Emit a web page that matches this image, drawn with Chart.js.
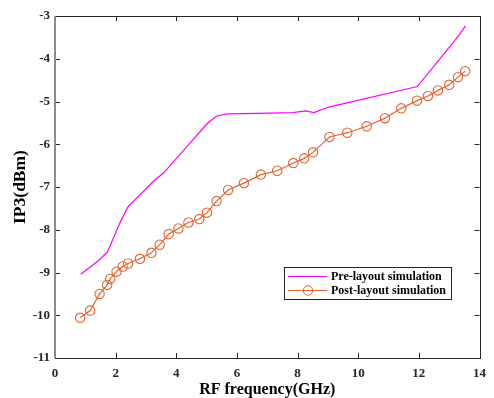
<!DOCTYPE html>
<html>
<head>
<meta charset="utf-8">
<script src="https://cdn.jsdelivr.net/npm/chart.js@4/dist/chart.umd.min.js"></script>
<style>
  html, body { margin: 0; padding: 0; background: #fff; }
  #wrap { width: 494px; height: 398px; }
</style>
</head>
<body>
<div id="wrap"><canvas id="ip3Chart" width="494" height="398"></canvas></div>
<script>
// Pre-layout simulation (magenta line, no markers)
const preFreq = [0.85, 1.44, 1.73, 2.16, 2.41, 2.81, 3.30, 3.57, 4.38, 5.03, 5.33, 5.68, 6.65, 7.84, 8.27, 8.54, 9.03, 11.95, 13.30, 13.54];
const preIP3  = [-9.04, -8.72, -8.52, -7.81, -7.46, -7.18, -6.83, -6.68, -6.03, -5.51, -5.34, -5.29, -5.28, -5.26, -5.22, -5.26, -5.13, -4.65, -3.47, -3.23];

// Post-layout simulation (orange line with circles)
const postFreq = [0.83, 1.16, 1.47, 1.72, 1.82, 2.03, 2.23, 2.41, 2.80, 3.18, 3.45, 3.75, 4.07, 4.40, 4.76, 5.01, 5.33, 5.71, 6.23,
                  6.79, 7.33, 7.86, 8.22, 8.51, 9.05, 9.64, 10.28, 10.88, 11.42, 11.94, 12.30, 12.63, 13.00, 13.29, 13.53];
const postIP3  = [-10.06, -9.89, -9.50, -9.29, -9.15, -8.98, -8.86, -8.79, -8.68, -8.54, -8.35, -8.10, -7.97, -7.83, -7.75, -7.60, -7.33, -7.07, -6.91,
                  -6.71, -6.62, -6.44, -6.33, -6.19, -5.83, -5.73, -5.58, -5.39, -5.16, -4.98, -4.87, -4.74, -4.61, -4.43, -4.29];

const xTicks = [0, 2, 4, 6, 8, 10, 12, 14];
const yTicks = [-11, -10, -9, -8, -7, -6, -5, -4, -3];

const seriesNames = ['Pre-layout simulation', 'Post-layout simulation'];
const magenta = '#ff00ff';
const orange = '#e4622e';
const axisColor = '#262626';
const serif = '"Liberation Serif", "Times New Roman", serif';

function toPoints(xs, ys) {
  return xs.map((x, i) => ({ x: x, y: ys[i] }));
}

// box with inward ticks on all four sides, MATLAB style
const boxPlugin = {
  id: 'boxPlugin',
  afterDraw(chart) {
    const { ctx, chartArea: a, scales } = chart;
    const len = 5;
    ctx.save();
    ctx.strokeStyle = axisColor;
    ctx.lineWidth = 1;
    ctx.beginPath();
    xTicks.forEach(v => {
      const px = Math.round(scales.x.getPixelForValue(v)) + 0.5;
      ctx.moveTo(px, a.bottom); ctx.lineTo(px, a.bottom - len);
      ctx.moveTo(px, a.top); ctx.lineTo(px, a.top + len);
    });
    yTicks.forEach(v => {
      const py = Math.round(scales.y.getPixelForValue(v)) + 0.5;
      ctx.moveTo(a.left, py); ctx.lineTo(a.left + len, py);
      ctx.moveTo(a.right, py); ctx.lineTo(a.right - len, py);
    });
    ctx.stroke();
    ctx.strokeRect(Math.round(a.left) + 0.5, Math.round(a.top) + 0.5,
                   Math.round(a.right - a.left), Math.round(a.bottom - a.top));
    // left spine looks heavier and grey in the original
    ctx.strokeStyle = '#8c8c8c';
    ctx.lineWidth = 2;
    ctx.beginPath();
    ctx.moveTo(Math.round(a.left), a.top);
    ctx.lineTo(Math.round(a.left), a.bottom);
    ctx.stroke();

    // legend box
    const lx = 284, ly = 267, lw = 167, lh = 32;
    ctx.fillStyle = '#fff';
    ctx.fillRect(lx, ly, lw, lh);
    ctx.strokeStyle = axisColor;
    ctx.lineWidth = 1;
    ctx.strokeRect(lx + 0.5, ly + 0.5, lw, lh);
    ctx.font = 'bold 12px ' + serif;
    ctx.textBaseline = 'middle';
    ctx.fillStyle = '#000';
    chart.data.datasets.forEach((ds, i) => {
      const y = ly + 9.5 + i * 14;
      ctx.strokeStyle = ds.borderColor;
      ctx.beginPath();
      ctx.moveTo(288, y); ctx.lineTo(327, y);
      ctx.stroke();
      if (ds.pointRadius > 0) {
        ctx.beginPath();
        ctx.arc(308, y, ds.pointRadius, 0, Math.PI * 2);
        ctx.stroke();
      }
      ctx.fillText(ds.label, 331, y + 0.5);
    });
    ctx.restore();
  }
};

new Chart(document.getElementById('ip3Chart'), {
  type: 'line',
  data: {
    datasets: [{
      label: seriesNames[0],
      data: toPoints(preFreq, preIP3),
      borderColor: magenta,
      borderWidth: 1.2,
      pointRadius: 0,
      tension: 0,
      fill: false
    }, {
      label: seriesNames[1],
      data: toPoints(postFreq, postIP3),
      borderColor: orange,
      borderWidth: 1.2,
      pointRadius: 4.7,
      pointBorderWidth: 1.1,
      pointBackgroundColor: 'rgba(0,0,0,0)',
      pointBorderColor: orange,
      tension: 0,
      fill: false
    }]
  },
  options: {
    responsive: false,
    animation: false,
    layout: { padding: { top: 16, right: 7, left: 0, bottom: 0 } },
    plugins: {
      legend: { display: false },
      tooltip: { enabled: false }
    },
    scales: {
      x: {
        type: 'linear',
        min: 0,
        max: 14,
        afterFit: s => { s.height = 40; },
        afterBuildTicks: s => { s.ticks = xTicks.map(v => ({ value: v })); },
        grid: { display: false, drawTicks: false },
        border: { display: false },
        ticks: { padding: 8, color: axisColor, font: { family: serif, size: 13, weight: 'bold' } },
        title: {
          display: true,
          text: 'RF frequency(GHz)',
          color: '#000',
          padding: { top: 0, bottom: 0 },
          font: { family: serif, size: 16, weight: 'bold', lineHeight: 1 }
        }
      },
      y: {
        type: 'linear',
        min: -11,
        max: -3,
        afterFit: s => { s.width = 55; },
        afterBuildTicks: s => { s.ticks = yTicks.map(v => ({ value: v })); },
        grid: { display: false, drawTicks: false },
        border: { display: false },
        ticks: { padding: 5, color: axisColor, font: { family: serif, size: 13, weight: 'bold' } },
        title: {
          display: true,
          text: 'IP3(dBm)',
          color: '#000',
          padding: { top: 12, bottom: 0 },
          font: { family: serif, size: 17.5, weight: 'bold', lineHeight: 1 }
        }
      }
    }
  },
  plugins: [boxPlugin]
});
</script>
</body>
</html>
